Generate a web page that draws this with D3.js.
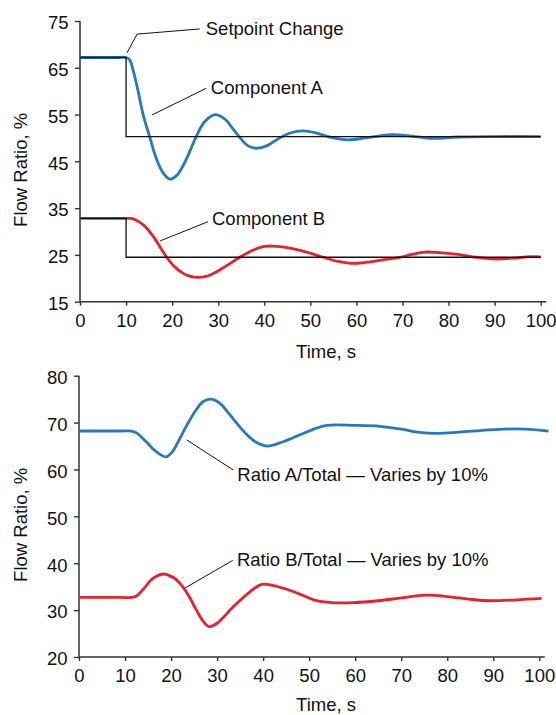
<!DOCTYPE html>
<html>
<head>
<meta charset="utf-8">
<script src="https://cdn.jsdelivr.net/npm/d3@7"></script>
<style>
  body { margin: 0; background: #fff; }
  text { font-family: "Liberation Sans", Arial, Helvetica, sans-serif; fill: #111; }
</style>
</head>
<body>
<div id="chart"></div>
<script>
// top panel: component flows after the setpoint change
var compA = [[0, 67.2], [8, 67.2], [10, 67.2], [10.8, 66.7], [11.5, 64.6], [12.5, 60.5], [13.7, 55], [15.2, 50],
  [16.5, 45.8], [18, 42.6], [19.5, 41.2], [21, 42], [23, 45.3], [25, 49.8], [27, 53.4], [29.3, 55],
  [31.5, 54], [33, 52.2], [34.6, 50.2], [36.5, 48.3], [38.3, 47.8], [40.5, 48.3], [43, 49.8],
  [45.5, 51], [48.4, 51.5], [51.5, 51], [54.5, 50.1], [58.2, 49.6], [62, 50], [67.6, 50.7],
  [72, 50.4], [76.6, 49.9], [82, 50.2], [90, 50.3], [100, 50.3]];
var compB = [[0, 32.8], [8, 32.8], [10, 32.8], [11, 32.8], [12, 32.5], [14, 31.2], [16, 28.8], [18.8, 24.5],
  [20.5, 22.5], [22.5, 21], [24, 20.4], [25.7, 20.2], [28, 20.6], [31, 22.2], [34.7, 24.5],
  [37.5, 26], [40, 26.8], [41.6, 26.9], [44, 26.7], [48, 25.9], [52.8, 24.5], [56, 23.6],
  [58.9, 23.2], [62, 23.4], [66, 24], [69.4, 24.5], [72, 25.1], [74.8, 25.6], [78, 25.5],
  [82, 25.1], [86, 24.5], [90.4, 24.1], [94, 24.3], [97, 24.6], [100, 24.6]];
var setA = [[0, 67.2], [10, 67.2], [10, 50.3], [100, 50.3]];
var setB = [[0, 32.8], [10, 32.8], [10, 24.5], [100, 24.5]];

// bottom panel: ratio of each component to total
var ratioA = [[0, 68.2], [9, 68.2], [11.4, 68.2], [12.5, 67.8], [14.5, 66], [16.5, 64], [18.9, 62.7],
  [20.3, 63.8], [21.7, 66.2], [23.4, 69.4], [25.5, 72.8], [27, 74.5], [28.6, 75], [30.5, 74.2],
  [32.5, 72], [34.5, 69.6], [36.5, 67.4], [38.5, 65.8], [40.8, 65], [44, 65.8], [48, 67.4],
  [51, 68.6], [53.8, 69.4], [60, 69.4], [65.4, 69.2], [70, 68.6], [74, 67.9], [77.7, 67.7],
  [82, 67.9], [87, 68.3], [92.2, 68.6], [97, 68.6], [102, 68.2]];
var ratioB = [[0, 32.7], [9, 32.7], [11.4, 32.7], [12.5, 33], [14, 34.5], [16, 36.7], [18.3, 37.7],
  [19.5, 37.4], [21, 36.6], [22.5, 35], [24, 32.8], [25.5, 30], [27, 27.6], [28.3, 26.5],
  [30, 27.2], [33.5, 30.7], [37, 33.8], [39.7, 35.5], [42, 35.3], [45, 34.5], [48, 33.4],
  [51, 32.2], [55, 31.6], [59.6, 31.6], [65, 32], [70, 32.6], [75.2, 33.2], [80, 32.9],
  [85, 32.3], [89.3, 32], [95, 32.2], [100.5, 32.5]];

var xTicks = [0, 10, 20, 30, 40, 50, 60, 70, 80, 90, 100];
var yTicksTop = [15, 25, 35, 45, 55, 65, 75];
var yTicksBottom = [20, 30, 40, 50, 60, 70, 80];

// annotations: label, leader line, text anchor (data units)
var notesTop = [
  {label: "Setpoint Change", line: [[10.2, 68.2], [12.4, 72.2], [26, 73.3]], at: [27.3, 72.0]},
  {label: "Component A", line: [[15.6, 54.9], [27.35, 60.6]], at: [28.4, 59.3]},
  {label: "Component B", line: [[17.4, 28.0], [27.8, 32.1]], at: [28.65, 31.4]}
];
var notesBottom = [
  {label: "Ratio A/Total \u2014 Varies by 10%", line: [[23.4, 66.3], [33.5, 59.9]], at: [34.4, 57.6]},
  {label: "Ratio B/Total \u2014 Varies by 10%", line: [[23.0, 34.7], [33.4, 40.6]], at: [34.3, 39.4]}
];

var blue = "#2479c2", red = "#e8212b";
var width = 556, height = 715;
var fontSize = 18.5;

var svg = d3.select("#chart")
  .append("svg")
  .attr("width", width)
  .attr("height", height)

function panel(cfg) {
  var x = d3.scaleLinear().domain([0, 100]).range([cfg.left, cfg.right]);
  var y = d3.scaleLinear().domain(cfg.yDomain).range([cfg.bottom, cfg.top]);
  var g = svg.append("g");

  var line = d3.line()
    .x(d => x(d[0]))
    .y(d => y(d[1]))
    .curve(d3.curveCatmullRom.alpha(0.5));
  var step = d3.line().x(d => x(d[0])).y(d => y(d[1]));

  // axes
  var xAxis = d3.axisBottom(x).tickValues(xTicks).tickSize(4).tickSizeOuter(0).tickPadding(8);
  var yAxis = d3.axisLeft(y).tickValues(cfg.yTicks).tickSize(5).tickSizeOuter(0).tickPadding(6.5);

  var gx = g.append("g").attr("transform", "translate(0," + cfg.bottom + ")").call(xAxis);
  var gy = g.append("g").attr("transform", "translate(" + cfg.left + ",0)").call(yAxis);
  [gx, gy].forEach(function (a) {
    a.select(".domain").remove();
    a.selectAll("line").attr("stroke", "#333").attr("stroke-width", 1.4);
    a.selectAll("text").attr("font-size", fontSize).attr("fill", "#111")
      .style("font-family", "'Liberation Sans', Arial, sans-serif");
  });
  gy.selectAll("text").attr("dy", "0.42em");

  g.append("line")
    .attr("x1", x(0)).attr("x2", x(101.2))
    .attr("y1", cfg.bottom).attr("y2", cfg.bottom)
    .attr("stroke", "#333").attr("stroke-width", 1.5);
  g.append("line")
    .attr("x1", cfg.left).attr("x2", cfg.left)
    .attr("y1", y(cfg.yDomain[0])).attr("y2", y(cfg.yDomain[1]))
    .attr("stroke", "#333").attr("stroke-width", 1.5);

  // series
  cfg.series.forEach(function (s) {
    g.append("path")
      .datum(s.data)
      .attr("d", line)
      .attr("fill", "none")
      .attr("stroke", s.color)
      .attr("stroke-width", 2.8)
      .attr("stroke-linejoin", "round");
  });
  (cfg.steps || []).forEach(function (s) {
    g.append("path")
      .datum(s)
      .attr("d", step)
      .attr("fill", "none")
      .attr("stroke", "#111")
      .attr("stroke-width", 1.3);
  });

  // annotations
  cfg.notes.forEach(function (n) {
    g.append("path")
      .datum(n.line)
      .attr("d", step)
      .attr("fill", "none")
      .attr("stroke", "#111")
      .attr("stroke-width", 1);
    g.append("text")
      .attr("x", x(n.at[0]))
      .attr("y", y(n.at[1]))
      .attr("font-size", fontSize)
      .text(n.label);
  });

  // titles
  g.append("text")
    .attr("x", 326)
    .attr("y", cfg.bottom + cfg.xTitleGap)
    .attr("text-anchor", "middle")
    .attr("font-size", fontSize)
    .text("Time, s");
  g.append("text")
    .attr("transform", "translate(27," + ((cfg.top + cfg.bottom) / 2 + 8.5) + ") rotate(-90)")
    .attr("text-anchor", "middle")
    .attr("font-size", fontSize)
    .text("Flow Ratio, %");
}

panel({
  left: 80, right: 540.7, top: 21, bottom: 301.7,
  yDomain: [15, 75], yTicks: yTicksTop, xTitleGap: 56.5,
  series: [{data: compA, color: blue}, {data: compB, color: red}],
  steps: [setA, setB],
  notes: notesTop
});

panel({
  left: 79, right: 539.3, top: 375.7, bottom: 657,
  yDomain: [20, 80], yTicks: yTicksBottom, xTitleGap: 53.5,
  series: [{data: ratioA, color: blue}, {data: ratioB, color: red}],
  notes: notesBottom
});
</script>
</body>
</html>
